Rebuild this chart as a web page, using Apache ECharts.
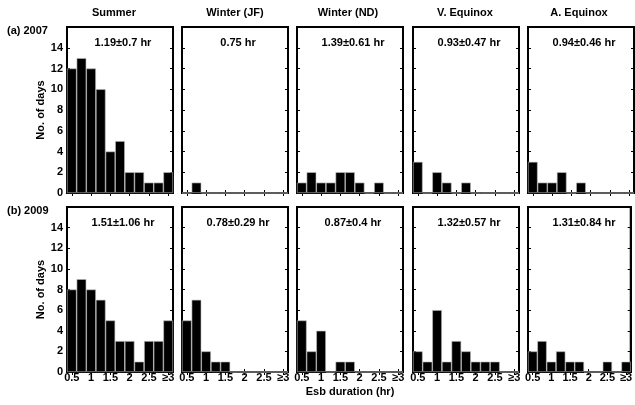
<!DOCTYPE html>
<html>
<head>
<meta charset="utf-8">
<script src="https://cdn.jsdelivr.net/npm/echarts@6/dist/echarts.min.js"></script>
<style>html,body{margin:0;padding:0;background:#fff;}#c{width:635px;height:405px;}</style>
</head>
<body>
<div id="c"></div>
<script>
// Bin categories (Esb duration, hr)
const bins = ['0.5','0.75','1','1.25','1.5','1.75','2','2.25','2.5','2.75','≥3'];
const seasons = ['Summer','Winter (JF)','Winter (ND)','V. Equinox','A. Equinox'];
const yearLabels = ['(a) 2007','(b) 2009'];

// 2007 counts
const summer2007   = [12,13,12,10,4,5,2,2,1,1,2];
const winterJF2007 = [0,1,0,0,0,0,0,0,0,0,0];
const winterND2007 = [1,2,1,1,2,2,1,0,1,0,0];
const vEquinox2007 = [3,0,2,1,0,1,0,0,0,0,0];
const aEquinox2007 = [3,1,1,2,0,1,0,0,0,0,0];

// 2009 counts
const summer2009   = [8,9,8,7,5,3,3,1,3,3,5];
const winterJF2009 = [5,7,2,1,1,0,0,0,0,0,0];
const winterND2009 = [5,2,4,0,1,1,0,0,0,0,0];
const vEquinox2009 = [2,1,6,1,3,2,1,1,1,0,0];
const aEquinox2009 = [2,3,1,2,1,1,0,0,1,0,1];

const stats2007 = ['1.19±0.7 hr','0.75 hr','1.39±0.61 hr','0.93±0.47 hr','0.94±0.46 hr'];
const stats2009 = ['1.51±1.06 hr','0.78±0.29 hr','0.87±0.4 hr','1.32±0.57 hr','1.31±0.84 hr'];

const yMin = 0, yMax = 16, yStep = 2;

const rows = [
  [summer2007, winterJF2007, winterND2007, vEquinox2007, aEquinox2007],
  [summer2009, winterJF2009, winterND2009, vEquinox2009, aEquinox2009]
];
const stats = [stats2007, stats2009];

const FONT = '"Liberation Sans", Arial, Helvetica, sans-serif';
const colLeft = [67, 182, 297, 413, 528];
const colW = 106;
const rowTop = [27, 207];
const rowH = [166, 165];
const titleCx = [114, 235, 348, 465, 579];

const grid = [], xAxis = [], yAxis = [], series = [], graphic = [];
let gi = 0;
for (let r = 0; r < 2; r++) {
  for (let c = 0; c < 5; c++) {
    grid.push({left: colLeft[c], top: rowTop[r], width: colW, height: rowH[r],
      show: true, borderColor: '#000', borderWidth: 2, backgroundColor: '#fff', containLabel: false});
    const isBottom = r === 1, isLeft = c === 0;
    xAxis.push({type: 'category', gridIndex: gi, data: bins, position: 'bottom',
      boundaryGap: true,
      axisLine: {show: true, lineStyle: {color: '#000', width: 2}},
      axisTick: {show: true, inside: true, length: 3, interval: 1, alignWithLabel: true, lineStyle: {color: '#000'}},
      axisLabel: {show: isBottom, interval: 1, margin: 0, color: '#000', fontFamily: FONT, fontWeight: 'bold', fontSize: 11},
      splitLine: {show: false},
      name: (isBottom && c === 2) ? 'Esb duration (hr)' : '',
      nameLocation: 'middle', nameGap: 14,
      nameTextStyle: {color: '#000', fontFamily: FONT, fontWeight: 'bold', fontSize: 11}
    });
    xAxis.push({type: 'category', gridIndex: gi, data: bins, position: 'top',
      boundaryGap: true,
      axisLine: {show: true, lineStyle: {color: '#000', width: 2}},
      axisTick: {show: true, inside: true, length: 3, interval: 1, alignWithLabel: true, lineStyle: {color: '#000'}},
      axisLabel: {show: false}, splitLine: {show: false}
    });
    yAxis.push({type: 'value', gridIndex: gi, min: yMin, max: yMax, interval: yStep, position: 'left',
      axisLine: {show: true, lineStyle: {color: '#000', width: 2}},
      axisTick: {show: true, inside: true, length: 3, lineStyle: {color: '#000'}},
      axisLabel: {show: isLeft, showMaxLabel: false, margin: 4, color: '#000', fontFamily: FONT, fontWeight: 'bold', fontSize: 11},
      splitLine: {show: false},
      name: isLeft ? 'No. of days' : '', nameLocation: 'middle', nameGap: 18, nameRotate: 90,
      nameTextStyle: {color: '#000', fontFamily: FONT, fontWeight: 'bold', fontSize: 11}
    });
    yAxis.push({type: 'value', gridIndex: gi, min: yMin, max: yMax, interval: yStep, position: 'right',
      axisLine: {show: true, lineStyle: {color: '#000', width: 2}},
      axisTick: {show: true, inside: true, length: 3, lineStyle: {color: '#000'}},
      axisLabel: {show: false}, splitLine: {show: false}
    });
    series.push({type: 'bar', xAxisIndex: gi * 2, yAxisIndex: gi * 2, data: rows[r][c],
      barCategoryGap: '0%', barWidth: '100%',
      itemStyle: {color: '#000', borderColor: '#bbb', borderWidth: 0.6},
      silent: true, animation: false});
    graphic.push({type: 'text', x: colLeft[c] + colW / 2 + 3, y: rowTop[r] + 16,
      style: {text: stats[r][c], textAlign: 'center', textVerticalAlign: 'middle', fill: '#000',
        font: 'bold 11px ' + FONT}});
    gi++;
  }
}
for (let c = 0; c < 5; c++) {
  graphic.push({type: 'text', x: titleCx[c], y: 13,
    style: {text: seasons[c], textAlign: 'center', textVerticalAlign: 'middle', fill: '#000', font: 'bold 11px ' + FONT}});
}
for (let r = 0; r < 2; r++) {
  graphic.push({type: 'text', x: 7, y: rowTop[r] + 4,
    style: {text: yearLabels[r], textAlign: 'left', textVerticalAlign: 'middle', fill: '#000', font: 'bold 11px ' + FONT}});
}

const chart = echarts.init(document.getElementById('c'), null, {renderer: 'canvas'});
chart.setOption({animation: false, backgroundColor: '#fff', grid, xAxis, yAxis, series, graphic});
</script>
</body>
</html>
